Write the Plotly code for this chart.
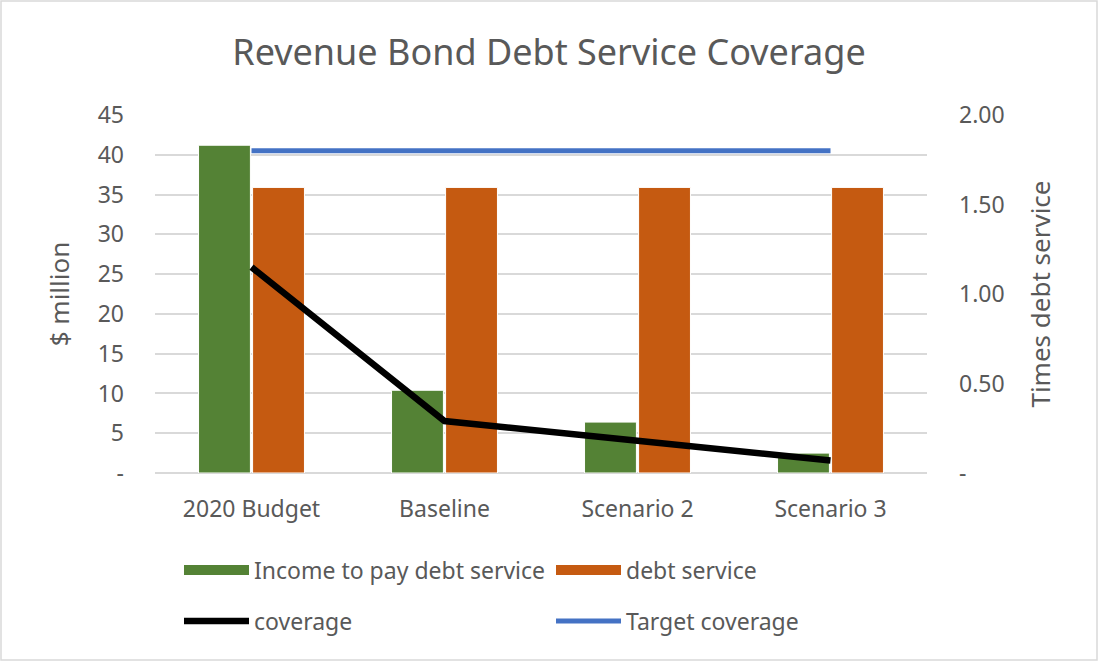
import plotly.graph_objects as go

categories = ["2020 Budget", "Baseline", "Scenario 2", "Scenario 3"]
income = [41.2, 10.4, 6.4, 2.5]
debt_service = [35.9, 35.9, 35.9, 35.9]
coverage = [1.15, 0.29, 0.18, 0.07]
target = [1.80, 1.80, 1.80, 1.80]

left_ticks = [0, 5, 10, 15, 20, 25, 30, 35, 40, 45]
left_text = ["-"] + [str(v) for v in left_ticks[1:]]
right_ticks = [0, 0.5, 1.0, 1.5, 2.0]
right_text = ["-", "0.50", "1.00", "1.50", "2.00"]

FONT = "Noto Sans"
GRAY = "#595959"
GREEN = "#548235"
ORANGE = "#C55A11"
W, H = 1098, 661
L, R, T, B = 155, 171, 115, 188
PW, PH = W - L - R, H - T - B

fig = go.Figure()
fig.add_trace(go.Bar(x=categories, y=income, name="Income to pay debt service",
                     marker=dict(color=GREEN, line=dict(color="white", width=1)),
                     showlegend=False))
fig.add_trace(go.Bar(x=categories, y=debt_service, name="debt service",
                     marker=dict(color=ORANGE, line=dict(color="white", width=1)),
                     showlegend=False))
fig.add_trace(go.Scatter(x=categories, y=coverage, name="coverage", mode="lines",
                         line=dict(color="black", width=6.5), yaxis="y2", legend="legend2"))
fig.add_trace(go.Scatter(x=categories, y=target, name="Target coverage", mode="lines",
                         line=dict(color="#4472C4", width=5), yaxis="y2", legend="legend2"))
# legend swatches for the bar series
fig.add_trace(go.Scatter(x=[None], y=[None], name="Income to pay debt service", mode="lines",
                         line=dict(color=GREEN, width=14), legend="legend"))
fig.add_trace(go.Scatter(x=[None], y=[None], name="debt service", mode="lines",
                         line=dict(color=ORANGE, width=14), legend="legend"))

def px_x(p):
    return (p - L) / PW

def px_y(p):
    return (H - B - p) / PH

legend_common = dict(orientation="h", xanchor="left", yanchor="middle",
                     font=dict(family=FONT, size=23, color=GRAY),
                     entrywidth=292, entrywidthmode="pixels", bgcolor="rgba(0,0,0,0)",
                     itemwidth=65, tracegroupgap=0)

fig.update_layout(
    width=W, height=H,
    margin=dict(l=L, r=R, t=T, b=B),
    paper_bgcolor="white", plot_bgcolor="white",
    title=dict(text="Revenue Bond Debt Service Coverage", x=0.5, xanchor="center",
               y=1 - 52 / H, yanchor="middle",
               font=dict(family=FONT, size=36, color=GRAY)),
    barmode="group", bargap=0.44, bargroupgap=0.04,
    xaxis=dict(tickfont=dict(family=FONT, size=23, color=GRAY), showgrid=False,
               showline=False, ticks="", ticklabelstandoff=20),
    yaxis=dict(range=[0, 45], tickvals=left_ticks, ticktext=left_text,
               tickfont=dict(family=FONT, size=23, color=GRAY),
               showgrid=True, gridcolor="#d9d9d9", gridwidth=2,
               zeroline=True, zerolinecolor="#d9d9d9", zerolinewidth=2,
               title=dict(text="$ million", font=dict(family=FONT, size=26, color=GRAY), standoff=20),
               ticklabelstandoff=30),
    yaxis2=dict(range=[0, 2], tickvals=right_ticks, ticktext=right_text, overlaying="y",
                side="right", showgrid=False, zeroline=False,
                tickfont=dict(family=FONT, size=23, color=GRAY),
                title=dict(text="Times debt service", font=dict(family=FONT, size=26, color=GRAY), standoff=28),
                ticklabelstandoff=31),
    legend=dict(x=px_x(179), y=px_y(570), **legend_common),
    legend2=dict(x=px_x(179), y=px_y(621), **legend_common),
    showlegend=True,
    shapes=[dict(type="rect", xref="paper", yref="paper",
                 x0=px_x(1), x1=px_x(W - 1), y0=px_y(H - 1), y1=px_y(1),
                 line=dict(color="#d9d9d9", width=1.5), fillcolor="rgba(0,0,0,0)", layer="below")],
)

fig.write_html("out.html")
